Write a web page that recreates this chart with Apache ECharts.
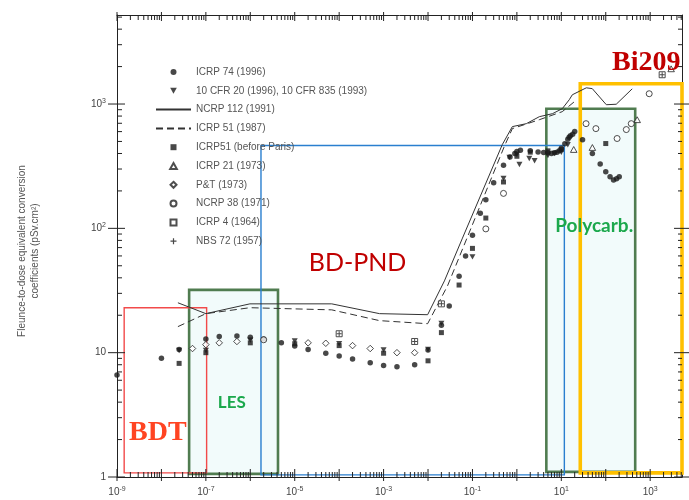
<!DOCTYPE html>
<html>
<head>
<meta charset="utf-8">
<script src="https://cdn.jsdelivr.net/npm/echarts@6/dist/echarts.min.js"></script>
<style>
  html, body { margin: 0; padding: 0; background: #fff; }
  #chart { width: 689px; height: 500px; }
</style>
</head>
<body>
<div id="chart"></div>
<script>
// Neutron energy (MeV) vs fluence-to-dose equivalent conversion coefficient (pSv·cm²)

const icrp74Energy = [1e-9, 1e-8, 2.5e-8, 1e-7, 2e-7, 5e-7, 1e-6, 2e-6, 5e-6, 1e-5, 2e-5, 5e-5, 1e-4, 2e-4, 5e-4,
  1e-3, 2e-3, 5e-3, 1e-2, 2e-2, 3e-2, 5e-2, 7e-2, 0.1, 0.15, 0.2, 0.3, 0.5, 0.7, 0.9, 1, 1.2, 2, 3, 4, 5, 6, 7,
  8, 9, 10, 12, 14, 15, 16, 18, 20, 30, 50, 75, 100, 125, 150, 175, 201];
const icrp74Coef = [6.6, 9.0, 10.6, 12.9, 13.5, 13.6, 13.3, 12.9, 12.0, 11.3, 10.6, 9.9, 9.4, 8.9, 8.3,
  7.9, 7.7, 8.0, 10.5, 16.6, 23.7, 41.1, 60, 88, 132, 170, 233, 322, 375, 400, 416, 425, 420, 412, 408, 405, 400, 405,
  409, 420, 440, 480, 520, 540, 555, 570, 600, 515, 400, 330, 285, 260, 245, 250, 260];

const cfrEnergy = [2.5e-8, 1e-7, 1e-6, 1e-5, 1e-4, 1e-3, 1e-2, 2e-2, 0.1, 0.5, 0.68, 1, 1.14, 1.9, 2.5, 5, 7, 10, 14];
const cfrCoef = [10.4, 10.4, 12.6, 12.4, 11.8, 10.5, 10.6, 17.2, 59, 252, 372, 393, 326, 365, 350, 385, 400, 409, 470];

const ncrp112Energy = [2.35e-8, 1e-7, 9.8e-7, 6.8e-5, 8.1e-4, 9.8e-3, 0.0234, 0.0596, 0.47, 0.79, 1.63, 3.2, 6.3, 10.5,
  15.1, 17.7, 36.5, 49.7, 103, 172, 394];
const ncrp112Coef = [25.2, 20.6, 24.7, 24.7, 20.6, 20.2, 37.8, 83.5, 472, 658, 695, 791, 836, 917,
  1083, 1187, 1350, 1330, 987, 996, 1325];

const icrp51Energy = [2.35e-8, 1e-7, 9.8e-7, 6.8e-5, 8.1e-4, 9.8e-3, 0.0275, 0.52, 0.79, 3.2, 10.5, 19.6];
const icrp51Coef = [16.2, 20.6, 23.0, 22.1, 18.1, 17.1, 34.5, 455, 634, 748, 868, 1043];

const preParisEnergy = [2.5e-8, 1e-7, 1e-6, 1e-5, 1e-4, 1e-3, 1e-2, 2e-2, 5e-2, 0.1, 0.2, 0.5, 1, 2, 5, 10, 100];
const preParisCoef = [8.2, 10.0, 12.0, 11.8, 11.4, 9.9, 8.6, 14.5, 35, 69, 121, 236, 380, 410, 420, 430, 481];

const icrp21Energy = [19, 50, 510, 2960];
const icrp21Coef = [431, 447, 748, 1920];

const ptEnergy = [5e-8, 1e-7, 2e-7, 5e-7, 2e-5, 5e-5, 2e-4, 5e-4, 2e-3, 5e-3];
const ptCoef = [10.8, 11.6, 12.0, 12.3, 12.0, 11.9, 11.4, 10.8, 10.0, 10.0];

const ncrp38Energy = [2e-6, 0.2, 0.5, 36, 60, 180, 290, 375, 950];
const ncrp38Coef = [12.7, 99, 191, 695, 634, 528, 623, 695, 1210];

const icrp4Energy = [1e-4, 5e-3, 2e-2, 1860];
const icrp4Coef = [14.2, 12.3, 24.7, 1720];

const nbs72Energy = [1e-4, 5e-3, 2e-2, 1860];
const nbs72Coef = [14.2, 12.3, 24.7, 1720];

// Detector ranges: [E min, E max, coef min, coef max]
const regionNames = ['LES', 'Polycarb.', 'BDT', 'BD-PND', 'Bi209'];
const regionBounds = [
  [4.2e-8, 4.2e-6, 1.06, 32],
  [4.6, 460, 1.1, 917],
  [1.45e-9, 1.04e-7, 1.08, 23],
  [1.74e-6, 11.7, 1.04, 464],
  [26.7, 5200, 1.08, 1454]
];
// Label anchor for each range name
const noteX = [3.84e-7, 55, 8.3e-9, 2.6e-4, 813];
const noteY = [3.98, 104, 2.25, 52.6, 2142];

// Axis tick labels and decades
const xLabelValues = [1e-9, 1e-7, 1e-5, 1e-3, 1e-1, 1e1, 1e3];
const yLabelValues = [1, 10, 100, 1000];
const xDecades = [-9, -8, -7, -6, -5, -4, -3, -2, -1, 0, 1, 2, 3];
const yDecades = [0, 1, 2, 3];
const minorSteps = [2, 3, 4, 5, 6, 7, 8, 9];

const AX_MIN_X = 1e-9, AX_MAX_X = 5200, AX_MIN_Y = 1, AX_MAX_Y = 5200;

const pairs = (xs, ys) => xs.map((x, i) => [x, ys[i]]);

const regionStyles = [
  { fill: '#f2fbfb', stroke: '#507c50', width: 2.6 },
  { fill: '#f2fbfb', stroke: '#507c50', width: 2.6 },
  { fill: 'none', stroke: '#f24a4a', width: 1.4 },
  { fill: 'none', stroke: '#2a7fcf', width: 1.4 },
  { fill: 'none', stroke: '#ffc000', width: 3.6 }
];
const noteStyles = [
  { font: 'bold 17px Lato', color: '#1ba84c' },
  { font: 'bold 19px Lato', color: '#1ba84c' },
  { font: 'bold 28px "Liberation Serif"', color: '#ff4422' },
  { font: '25px Lato', color: '#c00000' },
  { font: 'bold 28px "Liberation Serif"', color: '#c00000' }
];

// Marker outlines
const SYM = {
  downTri: 'path://M0,0L10,0L5,9Z',
  upTri: 'path://M5,0L10,9L0,9Z',
  square: 'path://M0,0H10V10H0Z',
  diamond: 'path://M5,0L10,5L5,10L0,5Z',
  plus: 'path://M4,0h2v4h4v2h-4v4h-2v-4h-4v-2h4z'
};

// Tick marks on all four frame sides: [x, y, side, isMajor]
const tickItems = [];
function pushTick(v, major, axis) {
  if (axis === 'x') {
    if (v < AX_MIN_X * 0.999 || v > AX_MAX_X) return;
    tickItems.push([v, AX_MIN_Y, 0, major]);
    tickItems.push([v, AX_MAX_Y, 1, major]);
  } else {
    if (v < AX_MIN_Y * 0.999 || v > AX_MAX_Y) return;
    tickItems.push([AX_MIN_X, v, 2, major]);
    tickItems.push([AX_MAX_X, v, 3, major]);
  }
}
xDecades.forEach(d => {
  pushTick(Math.pow(10, d), 1, 'x');
  minorSteps.forEach(m => pushTick(m * Math.pow(10, d), 0, 'x'));
});
yDecades.forEach(d => {
  pushTick(Math.pow(10, d), 1, 'y');
  minorSteps.forEach(m => pushTick(m * Math.pow(10, d), 0, 'y'));
});
// inner / outer lengths per side: bottom, top, left, right
const tickLen = [
  { major: [8, 4], minor: [5, 0] },
  { major: [6, 3], minor: [5, 0] },
  { major: [8, 9], minor: [5, 0] },
  { major: [8, 7], minor: [4, 0] }
];

const supFmt = (v) => {
  const e = Math.round(Math.log10(v));
  return '10{s|' + e + '}';
};

const axisFont = 'Liberation Sans';
const ink = '#222';

const chart = echarts.init(document.getElementById('chart'), null, { renderer: 'canvas' });

const hiddenMarker = { color: 'rgba(0,0,0,0)', borderWidth: 0, opacity: 0 };
const legendData = [
  { name: 'ICRP 74 (1996)' },
  { name: '10 CFR 20 (1996), 10 CFR 835 (1993)' },
  { name: 'NCRP 112 (1991)', itemStyle: hiddenMarker },
  { name: 'ICRP 51 (1987)', itemStyle: hiddenMarker },
  { name: 'ICRP51 (before Paris)' },
  { name: 'ICRP 21 (1973)' },
  { name: 'P&T (1973)' },
  { name: 'NCRP 38 (1971)' },
  { name: 'ICRP 4 (1964)' },
  { name: 'NBS 72 (1957)' }
];

const openStyle = { color: '#fff', borderColor: '#222', borderWidth: 1 };
const filledStyle = { color: '#1a1a1a' };

const option = {
  animation: false,
  backgroundColor: '#fff',
  grid: { left: 117, right: 7, top: 15, bottom: 23 },
  xAxis: [
    {
      type: 'log', logBase: 10, min: AX_MIN_X, max: AX_MAX_X, position: 'bottom',
      axisLine: { show: true, lineStyle: { color: ink, width: 1 } },
      axisTick: { show: false }, splitLine: { show: false }, minorTick: { show: false },
      axisLabel: {
        customValues: xLabelValues, formatter: supFmt, margin: 9,
        color: '#444', fontFamily: axisFont, fontSize: 10,
        rich: { s: { fontSize: 7, fontFamily: axisFont, color: '#444', padding: [0, 0, 6, 0] } }
      }
    },
    {
      type: 'log', logBase: 10, min: AX_MIN_X, max: AX_MAX_X, position: 'top',
      axisLine: { show: true, lineStyle: { color: ink, width: 1 } },
      axisTick: { show: false }, axisLabel: { show: false }, splitLine: { show: false }
    }
  ],
  yAxis: [
    {
      type: 'log', logBase: 10, min: AX_MIN_Y, max: AX_MAX_Y, position: 'left',
      axisLine: { show: true, lineStyle: { color: ink, width: 1 } },
      axisTick: { show: false }, splitLine: { show: false }, minorTick: { show: false },
      axisLabel: {
        customValues: yLabelValues, margin: 11,
        formatter: (v) => (v < 50 ? String(Math.round(v)) : supFmt(v)),
        color: '#444', fontFamily: axisFont, fontSize: 10,
        rich: { s: { fontSize: 7, fontFamily: axisFont, color: '#444', padding: [0, 0, 6, 0] } }
      }
    },
    {
      type: 'log', logBase: 10, min: AX_MIN_Y, max: AX_MAX_Y, position: 'right',
      axisLine: { show: true, lineStyle: { color: ink, width: 1 } },
      axisTick: { show: false }, axisLabel: { show: false }, splitLine: { show: false }
    }
  ],
  legend: {
    orient: 'vertical', left: 150, top: 61,
    itemWidth: 35, itemHeight: 6, itemGap: 6.8,
    selectedMode: false,
    textStyle: { fontSize: 10, color: '#555', fontFamily: axisFont, lineHeight: 12 },
    data: legendData
  },
  graphic: [
    {
      type: 'text', x: 29, y: 251, rotation: Math.PI / 2,
      style: {
        text: 'Fleunce-to-dose equivalent conversion\ncoefficients (pSv.cm²)',
        fill: '#555', font: '10px "Liberation Sans"', align: 'center', verticalAlign: 'middle', lineHeight: 13
      }
    }
  ],
  series: [
    {
      name: 'ranges', type: 'custom', z: 1, silent: true,
      encode: { x: [0, 1], y: [2, 3] },
      data: regionBounds,
      renderItem: (params, api) => {
        const i = params.dataIndex;
        const tl = api.coord([api.value(0), api.value(3)]);
        const br = api.coord([api.value(1), api.value(2)]);
        const st = regionStyles[i];
        return {
          type: 'rect',
          shape: { x: tl[0], y: tl[1], width: br[0] - tl[0], height: br[1] - tl[1] },
          style: { fill: st.fill, stroke: st.stroke, lineWidth: st.width }
        };
      }
    },
    {
      name: 'frame ticks', type: 'custom', z: 2, silent: true,
      encode: { x: 0, y: 1 },
      data: tickItems,
      renderItem: (params, api) => {
        const p = api.coord([api.value(0), api.value(1)]);
        const side = api.value(2);
        const len = api.value(3) ? tickLen[side].major : tickLen[side].minor;
        const inn = len[0], out = len[1];
        let x1 = p[0], y1 = p[1], x2 = p[0], y2 = p[1];
        if (side === 0) { y1 = p[1] - inn; y2 = p[1] + out; }
        else if (side === 1) { y1 = p[1] + inn; y2 = p[1] - out; }
        else if (side === 2) { x1 = p[0] + inn; x2 = p[0] - out; }
        else { x1 = p[0] - inn; x2 = p[0] + out; }
        return {
          type: 'line',
          shape: { x1: x1, y1: y1, x2: x2, y2: y2 },
          style: { stroke: ink, lineWidth: 1 }
        };
      }
    },
    {
      name: 'NCRP 112 (1991)', type: 'line', z: 3, symbol: 'none',
      data: pairs(ncrp112Energy, ncrp112Coef),
      lineStyle: { color: '#333', width: 1 }, itemStyle: { color: '#333' }
    },
    {
      name: 'ICRP 51 (1987)', type: 'line', z: 3, symbol: 'none',
      data: pairs(icrp51Energy, icrp51Coef),
      lineStyle: { color: '#333', width: 1, type: [7, 4] }, itemStyle: { color: '#333' }
    },
    {
      name: 'ICRP 74 (1996)', type: 'scatter', z: 4, symbol: 'circle', symbolSize: 5.5, symbolKeepAspect: true,
      data: pairs(icrp74Energy, icrp74Coef), itemStyle: filledStyle
    },
    {
      name: '10 CFR 20 (1996), 10 CFR 835 (1993)', type: 'scatter', z: 4,
      symbol: SYM.downTri, symbolSize: 6, symbolKeepAspect: true,
      data: pairs(cfrEnergy, cfrCoef), itemStyle: filledStyle
    },
    {
      name: 'ICRP51 (before Paris)', type: 'scatter', z: 4, symbol: SYM.square, symbolSize: 5, symbolKeepAspect: true,
      data: pairs(preParisEnergy, preParisCoef), itemStyle: filledStyle
    },
    {
      name: 'ICRP 21 (1973)', type: 'scatter', z: 4, symbol: SYM.upTri, symbolSize: 6.5, symbolKeepAspect: true,
      data: pairs(icrp21Energy, icrp21Coef), itemStyle: openStyle
    },
    {
      name: 'P&T (1973)', type: 'scatter', z: 4, symbol: SYM.diamond, symbolSize: 6.5, symbolKeepAspect: true,
      data: pairs(ptEnergy, ptCoef), itemStyle: openStyle
    },
    {
      name: 'NCRP 38 (1971)', type: 'scatter', z: 4, symbol: 'circle', symbolSize: 6, symbolKeepAspect: true,
      data: pairs(ncrp38Energy, ncrp38Coef), itemStyle: openStyle
    },
    {
      name: 'ICRP 4 (1964)', type: 'scatter', z: 4, symbol: SYM.square, symbolSize: 6, symbolKeepAspect: true,
      data: pairs(icrp4Energy, icrp4Coef), itemStyle: openStyle
    },
    {
      name: 'NBS 72 (1957)', type: 'scatter', z: 5, symbol: SYM.plus, symbolSize: 5, symbolKeepAspect: true,
      data: pairs(nbs72Energy, nbs72Coef), itemStyle: filledStyle
    },
    {
      name: 'range names', type: 'custom', z: 6, silent: true,
      encode: { x: 0, y: 1 },
      data: pairs(noteX, noteY),
      renderItem: (params, api) => {
        const i = params.dataIndex;
        const p = api.coord([api.value(0), api.value(1)]);
        const st = noteStyles[i];
        return {
          type: 'text', x: p[0], y: p[1],
          style: { text: regionNames[i], font: st.font, fill: st.color, align: 'center', verticalAlign: 'middle' }
        };
      }
    }
  ]
};

chart.setOption(option);
</script>
</body>
</html>
